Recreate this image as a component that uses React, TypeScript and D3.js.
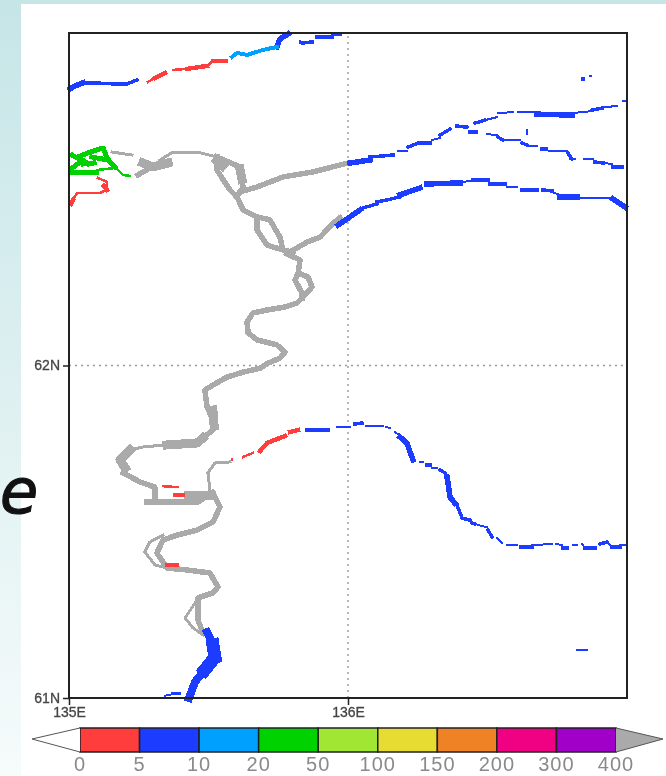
import React, { useEffect, useRef } from "react";
import * as d3 from "d3";

type Pt = [number, number];
type Lines = Pt[][];

const levels = [0, 5, 10, 20, 50, 100, 150, 200, 300, 400];
const levelColors = ["#ff3c3c", "#1e3cff", "#00a0ff", "#00d200", "#a0e632", "#e6dc32", "#f08228", "#f00082", "#a000c8"];
const overColor = "#aaaaaa";
const lonTicks = [135, 136];
const latTicks = [61, 62];

// rivers by class, all [lon, lat]
const greyThin: Lines = [
	[[135.154, 62.642], [135.226, 62.633]],
	[[135.326, 62.618], [135.373, 62.642], [135.459, 62.642], [135.53, 62.627]],
	[[135.344, 61.761], [135.265, 61.755], [135.219, 61.746]],
	[[135.505, 61.625], [135.498, 61.677], [135.523, 61.707], [135.577, 61.71]],
	[[135.337, 61.49], [135.29, 61.469], [135.272, 61.439], [135.308, 61.4], [135.351, 61.391]],
	[[135.452, 61.286], [135.416, 61.241], [135.444, 61.211], [135.48, 61.19]],
];
const greyMid: Lines = [
	[[135.247, 62.573], [135.29, 62.594]],
	[[135.53, 62.627], [135.53, 62.588], [135.577, 62.528], [135.602, 62.507]],
	[[135.53, 62.627], [135.613, 62.597], [135.624, 62.537], [135.602, 62.507]],
	[[135.613, 62.522], [135.674, 62.537], [135.767, 62.567], [135.874, 62.582], [135.971, 62.603], [136, 62.609]],
	[[135.602, 62.507], [135.624, 62.468], [135.674, 62.447], [135.674, 62.407], [135.71, 62.362], [135.792, 62.341]],
	[[135.674, 62.447], [135.72, 62.438], [135.756, 62.386], [135.767, 62.347], [135.803, 62.341]],
	[[135.803, 62.347], [135.853, 62.371], [135.9, 62.386], [135.946, 62.428], [135.971, 62.444]],
	[[135.781, 62.336], [135.828, 62.317], [135.821, 62.278]],
	[[135.821, 62.278], [135.81, 62.257], [135.835, 62.218], [135.835, 62.203]],
	[[135.821, 62.278], [135.857, 62.266], [135.871, 62.236], [135.835, 62.203]],
	[[135.835, 62.203], [135.817, 62.188], [135.774, 62.176], [135.71, 62.167], [135.659, 62.158], [135.638, 62.131], [135.642, 62.098], [135.674, 62.077], [135.745, 62.062], [135.774, 62.04], [135.756, 62.022], [135.713, 62.007], [135.685, 61.992], [135.624, 61.98], [135.566, 61.965], [135.516, 61.941], [135.487, 61.926], [135.495, 61.875], [135.516, 61.836], [135.516, 61.806], [135.48, 61.782], [135.444, 61.767]],
	[[135.194, 61.677], [135.254, 61.65], [135.308, 61.634], [135.308, 61.595]],
	[[135.28, 61.589], [135.462, 61.589], [135.516, 61.619]],
	[[135.516, 61.616], [135.541, 61.574], [135.516, 61.529], [135.459, 61.505], [135.387, 61.49], [135.337, 61.475], [135.315, 61.436], [135.351, 61.391], [135.423, 61.385], [135.505, 61.376], [135.534, 61.334], [135.516, 61.316], [135.462, 61.301], [135.462, 61.235], [135.48, 61.196]],
];
const greyWide: Lines = [
	[[135.265, 62.609], [135.301, 62.597], [135.355, 62.609]],
	[[135.53, 62.615], [135.55, 62.6]],
	[[135.613, 62.59], [135.62, 62.56]],
	[[135.351, 61.761], [135.459, 61.767], [135.48, 61.782]],
	[[135.219, 61.746], [135.183, 61.716], [135.201, 61.692]],
	[[135.43, 61.61], [135.505, 61.61]],
	[[135.516, 61.866], [135.52, 61.82]],
];

const redThin: Lines = [
	[[135.283, 62.853], [135.308, 62.865]],
	[[135.373, 62.889], [135.423, 62.892]],
	[[135.495, 62.901], [135.516, 62.916]],
	[[135.09, 62.615], [135.093, 62.609]],
	[[135.104, 62.564], [135.136, 62.552], [135.136, 62.528], [135.111, 62.519], [135.029, 62.519], [135.014, 62.498]],
	[[135.337, 61.637], [135.391, 61.634]],
	[[135.584, 61.719], [135.584, 61.716]],
	[[135.624, 61.725], [135.659, 61.737]],
];
const redMid: Lines = [
	[[135.308, 62.865], [135.344, 62.88]],
	[[135.423, 62.892], [135.495, 62.901]],
	[[135.516, 62.916], [135.563, 62.916]],
	[[135.125, 62.54], [135.136, 62.528]],
	[[135.014, 62.498], [135.007, 62.486]],
	[[135.38, 61.61], [135.409, 61.61]],
	[[135.351, 61.4], [135.387, 61.4]],
	[[135.685, 61.743], [135.71, 61.767], [135.774, 61.788]],
	[[135.792, 61.8], [135.821, 61.806]],
];

const blueThin: Lines = [
	[[135.828, 62.97], [135.828, 62.976]],
	[[136.179, 62.645], [136.211, 62.645]],
	[[136.301, 62.678], [136.33, 62.684]],
	[[136.491, 62.738], [136.534, 62.747]],
	[[136.538, 62.759], [136.591, 62.762]],
	[[136.609, 62.762], [136.677, 62.762]],
	[[136.803, 62.759], [136.875, 62.765]],
	[[136.91, 62.777], [136.964, 62.78]],
	[[136.986, 62.795], [136.996, 62.795]],
	[[136.498, 62.696], [136.534, 62.693]],
	[[136.555, 62.678], [136.616, 62.678]],
	[[136.645, 62.66], [136.677, 62.66]],
	[[136.72, 62.645], [136.785, 62.645]],
	[[136.796, 62.621], [136.814, 62.621]],
	[[136.846, 62.621], [136.878, 62.621]],
	[[136.921, 62.609], [136.946, 62.606]],
	[[136.642, 62.708], [136.642, 62.696]],
	[[136.867, 62.871], [136.871, 62.871]],
	[[136.401, 62.552], [136.448, 62.555]],
	[[136.57, 62.537], [136.606, 62.537]],
	[[136.731, 62.522], [136.76, 62.513]],
	[[136.821, 62.504], [136.95, 62.504]],
	[[135.961, 61.815], [136.007, 61.815]],
	[[136.064, 61.818], [136.125, 61.818]],
	[[136.136, 61.815], [136.15, 61.812]],
	[[136.168, 61.8], [136.179, 61.794]],
	[[136.258, 61.71], [136.269, 61.71]],
	[[136.301, 61.692], [136.319, 61.692]],
	[[136.466, 61.52], [136.498, 61.514]],
	[[136.534, 61.481], [136.552, 61.466]],
	[[136.57, 61.46], [136.606, 61.46]],
	[[136.659, 61.46], [136.731, 61.463]],
	[[136.745, 61.463], [136.767, 61.46]],
	[[136.806, 61.46], [136.821, 61.46]],
	[[136.839, 61.463], [136.849, 61.451]],
	[[136.928, 61.469], [136.946, 61.454]],
	[[136.975, 61.46], [136.993, 61.46]],
	[[136.821, 61.144], [136.857, 61.144]],
	[[135.344, 61.007], [135.362, 61.01]],
];
const blueMid: Lines = [
	[[135.05, 62.85], [135.086, 62.85], [135.158, 62.847], [135.208, 62.847], [135.244, 62.859]],
	[[135.839, 62.97], [135.871, 62.973]],
	[[135.889, 62.988], [135.943, 62.988]],
	[[135.946, 62.997], [135.971, 62.997]],
	[[136.079, 62.627], [136.161, 62.633]],
	[[136.215, 62.657], [136.251, 62.669], [136.294, 62.669]],
	[[136.33, 62.693], [136.366, 62.711]],
	[[136.391, 62.72], [136.426, 62.717]],
	[[136.437, 62.702], [136.459, 62.702]],
	[[136.455, 62.729], [136.491, 62.738]],
	[[136.875, 62.768], [136.91, 62.774]],
	[[136.538, 62.687], [136.555, 62.678]],
	[[136.624, 62.669], [136.642, 62.663]],
	[[136.695, 62.651], [136.71, 62.651]],
	[[136.788, 62.639], [136.803, 62.621]],
	[[136.885, 62.612], [136.914, 62.609]],
	[[136.95, 62.597], [136.982, 62.597]],
	[[136.842, 62.862], [136.844, 62.862]],
	[[136.054, 62.474], [136.104, 62.486]],
	[[136.104, 62.492], [136.14, 62.498], [136.186, 62.507]],
	[[136.448, 62.558], [136.502, 62.558]],
	[[136.509, 62.546], [136.563, 62.546]],
	[[136.624, 62.528], [136.677, 62.528]],
	[[136.699, 62.528], [136.731, 62.525]],
	[[136.025, 61.824], [136.05, 61.827]],
	[[136.283, 61.701], [136.294, 61.701]],
	[[136.33, 61.686], [136.348, 61.677]],
	[[136.391, 61.58], [136.409, 61.541], [136.437, 61.535]],
	[[136.444, 61.526], [136.455, 61.523]],
	[[136.502, 61.505], [136.516, 61.484]],
	[[136.62, 61.454], [136.659, 61.454]],
	[[136.771, 61.451], [136.785, 61.451]],
	[[136.849, 61.451], [136.885, 61.451]],
	[[136.903, 61.463], [136.928, 61.469]],
	[[136.946, 61.454], [136.975, 61.454]],
	[[135.853, 61.806], [135.928, 61.806]],
	[[135.373, 61.013], [135.394, 61.013]],
];
const blueWide: Lines = [
	[[135.004, 62.832], [135.022, 62.841], [135.05, 62.85]],
	[[135.745, 62.958], [135.756, 62.982], [135.785, 62.997]],
	[[136.007, 62.609], [136.079, 62.618]],
	[[135.964, 62.422], [136.007, 62.447], [136.043, 62.468]],
	[[136.186, 62.513], [136.258, 62.534]],
	[[136.283, 62.546], [136.401, 62.549]],
	[[136.677, 62.756], [136.803, 62.753]],
	[[136.76, 62.507], [136.821, 62.507]],
	[[136.95, 62.501], [136.993, 62.477]],
	[[136.186, 61.785], [136.211, 61.767], [136.233, 61.716]],
	[[136.355, 61.665], [136.366, 61.604], [136.383, 61.586]],
];
const blueHeavy: Lines = [
	[[135.495, 61.198], [135.516, 61.16]],
	[[135.487, 61.085], [135.452, 61.049], [135.43, 61.0]],
];
const blueBlob: Lines = [
	[[135.516, 61.16], [135.523, 61.124]],
	[[135.516, 61.115], [135.487, 61.085]],
];

const skyMid: Lines = [
	[[135.584, 62.928], [135.602, 62.94], [135.638, 62.934]],
	[[135.638, 62.934], [135.695, 62.949], [135.745, 62.958]],
];

const greenThin: Lines = [
	[[135.004, 62.633], [135.032, 62.627]],
	[[135.165, 62.597], [135.194, 62.573], [135.219, 62.57]],
	[[135.1, 62.588], [135.165, 62.594]],
];
const greenMid: Lines = [
	[[135.032, 62.627], [135.075, 62.642], [135.122, 62.654], [135.14, 62.618], [135.165, 62.597]],
	[[135.011, 62.633], [135.068, 62.606]],
	[[135.011, 62.594], [135.05, 62.618], [135.068, 62.606]],
	[[135.082, 62.627], [135.14, 62.618]],
	[[135.004, 62.579], [135.1, 62.579]],
	[[135.05, 62.606], [135.09, 62.609]],
];

// one representative value per class, coloured through the threshold scale
const overValue = 500;
const classFive = 7;
const classZero = 2;
const classTen = 15;
const classTwenty = 30;

const W = 666;
const H = 776;

export default function App() {
	const ref = useRef<SVGSVGElement | null>(null);

	useEffect(() => {
		const svg = d3.select(ref.current);
		svg.selectAll("*").remove();

		const x = d3.scaleLinear().domain([135, 137]).range([69, 627]);
		const y = d3.scaleLinear().domain([61, 63]).range([698, 33]);
		const color = d3
			.scaleThreshold<number, string>()
			.domain(levels)
			.range(["#fff", ...levelColors, overColor]);

		const defs = svg.append("defs");
		const grad = defs.append("linearGradient").attr("id", "bg").attr("x1", 0).attr("y1", 0).attr("x2", 0).attr("y2", 1);
		grad.append("stop").attr("offset", 0).attr("stop-color", "#c6e5e7");
		grad.append("stop").attr("offset", 1).attr("stop-color", "#f6fbfb");
		defs.append("filter").attr("id", "soft").append("feGaussianBlur").attr("stdDeviation", 0.55);

		svg.append("rect").attr("width", W).attr("height", H).attr("fill", "url(#bg)");
		svg.append("rect").attr("x", 21).attr("y", 4).attr("width", W - 21).attr("height", H - 4).attr("fill", "#fff");

		svg.append("text")
			.attr("x", 0)
			.attr("y", 513)
			.attr("font-family", "DejaVu Sans")
			.attr("font-style", "oblique")
			.attr("font-size", 62)
			.attr("fill", "#111")
			.attr("stroke", "#111")
			.attr("stroke-width", 1.2)
			.text("e");

		const g = svg.append("g").attr("filter", "url(#soft)");

		// grid
		g.append("line").attr("x1", x(136)).attr("x2", x(136)).attr("y1", y(61)).attr("y2", y(63))
			.attr("stroke", "#999").attr("stroke-width", 1.4).attr("stroke-dasharray", "2 4");
		g.append("line").attr("x1", x(135)).attr("x2", x(137)).attr("y1", y(62)).attr("y2", y(62))
			.attr("stroke", "#999").attr("stroke-width", 1.4).attr("stroke-dasharray", "2 4");

		const line = d3.line<Pt>().x((d) => x(d[0])).y((d) => y(d[1]));
		const draw = (lines: Lines, value: number, width: number) => {
			g.append("g")
				.selectAll("path")
				.data(lines)
				.join("path")
				.attr("d", (d) => line(d))
				.attr("fill", "none")
				.attr("stroke", color(value))
				.attr("stroke-width", width)
				.attr("stroke-linecap", "square")
				.attr("stroke-linejoin", "round")
				.attr("shape-rendering", "crispEdges");
		};

		draw(greyThin, overValue, 3);
		draw(greyMid, overValue, 5.5);
		draw(greyWide, overValue, 9);
		draw(redThin, classZero, 2.5);
		draw(redMid, classZero, 4.5);
		draw(blueThin, classFive, 2);
		draw(blueMid, classFive, 3.5);
		draw(blueWide, classFive, 5.5);
		draw(blueHeavy, classFive, 8);
		draw(blueBlob, classFive, 13);
		draw(skyMid, classTen, 4);
		draw(greenThin, classTwenty, 2.5);
		draw(greenMid, classTwenty, 5);

		// frame and axes
		g.append("rect")
			.attr("x", x(135))
			.attr("y", y(63))
			.attr("width", x(137) - x(135))
			.attr("height", y(61) - y(63))
			.attr("fill", "none")
			.attr("stroke", "#222")
			.attr("stroke-width", 2);

		const styleAxis = (a: d3.Selection<SVGGElement, unknown, null, undefined>) => {
			a.select(".domain").remove();
			a.selectAll(".tick line").attr("stroke", "#222").attr("stroke-width", 1.5);
			a.selectAll("text")
				.attr("fill", "#444")
				.attr("font-family", "Liberation Sans")
				.attr("font-size", 14)
				.attr("stroke", "#444")
				.attr("stroke-width", 0.3);
		};
		g.append("g")
			.attr("transform", `translate(${x(135)},0)`)
			.call(d3.axisLeft(y).tickValues(latTicks).tickSize(6).tickPadding(3).tickFormat((d) => `${d}N`))
			.call(styleAxis as any);
		g.append("g")
			.attr("transform", `translate(0,${y(61)})`)
			.call(d3.axisBottom(x).tickValues(lonTicks).tickSize(7).tickPadding(2).tickFormat((d) => `${d}E`))
			.call(styleAxis as any);

		// colour bar
		const bx = d3.scalePoint<string>().domain(levels.map(String)).range([80, 616]);
		const barTop = 728;
		const barBottom = 752;
		const barMid = 739;
		const cb = g.append("g");
		cb.selectAll("rect")
			.data(levelColors)
			.join("rect")
			.attr("x", (_, i) => bx(String(levels[i])) as number)
			.attr("y", barTop)
			.attr("width", (_, i) => (bx(String(levels[i + 1])) as number) - (bx(String(levels[i])) as number))
			.attr("height", barBottom - barTop)
			.attr("fill", (d) => d)
			.attr("stroke", "#222")
			.attr("stroke-width", 1.5);
		cb.append("path")
			.attr("d", d3.line()([[80, barTop], [32, barMid], [80, barBottom]]))
			.attr("fill", "#fff")
			.attr("stroke", "#555")
			.attr("stroke-width", 1);
		cb.append("path")
			.attr("d", d3.line()([[616, barTop], [663, barMid], [616, barBottom]]))
			.attr("fill", overColor)
			.attr("stroke", "#555")
			.attr("stroke-width", 1);
		cb.selectAll("text")
			.data(levels)
			.join("text")
			.attr("x", (d) => bx(String(d)) as number)
			.attr("y", 771)
			.attr("text-anchor", "middle")
			.attr("font-family", "Liberation Sans")
			.attr("font-size", 20)
			.attr("letter-spacing", 1)
			.attr("fill", "#8a8a8a")
			.text((d) => d);
	}, []);

	return <svg ref={ref} width={W} height={H} style={{ position: "absolute", left: 0, top: 0 }} />;
}
